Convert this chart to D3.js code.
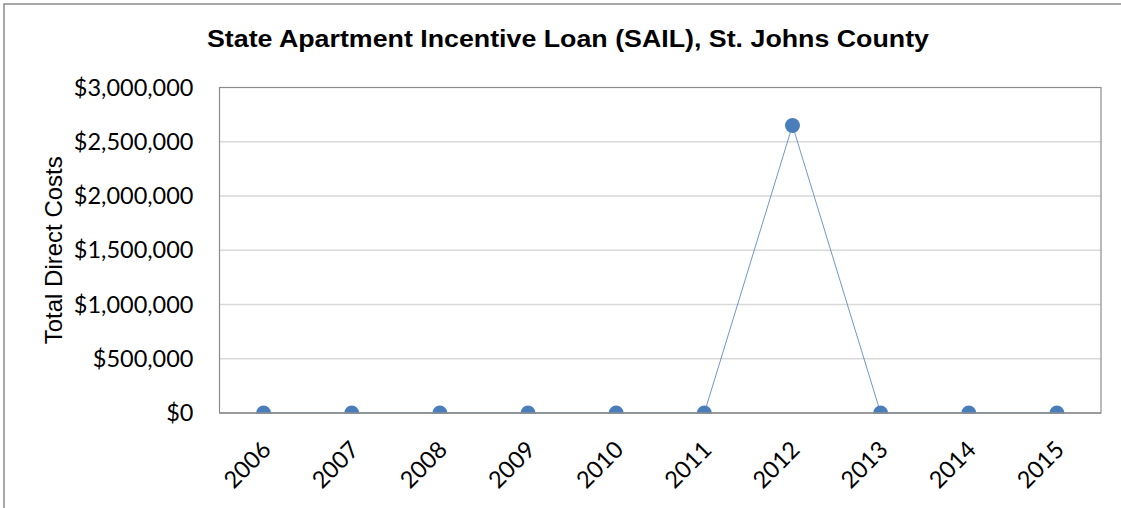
<!DOCTYPE html>
<html>
<head>
<meta charset="utf-8">
<script src="https://cdn.jsdelivr.net/npm/d3@7"></script>
<style>
  html, body { margin: 0; padding: 0; background: #fff; }
  svg { display: block; }
</style>
</head>
<body>
<svg id="chart" width="1121" height="508"></svg>
<script>
// Annual totals for SAIL funding in St. Johns County
const years = ["2006", "2007", "2008", "2009", "2010", "2011", "2012", "2013", "2014", "2015"];
const costs = [0, 0, 0, 0, 0, 0, 2650000, 0, 0, 0];
const yTicks = [0, 500000, 1000000, 1500000, 2000000, 2500000, 3000000];

const W = 1121, H = 508;
const plot = { left: 219.5, right: 1101, top: 87.5, bottom: 413 };
const labelFont = "Lato, 'Open Sans', sans-serif";

const svg = d3.select("#chart");

// outer frame (right and bottom edges run past the canvas)
svg.append("rect")
  .attr("x", 4).attr("y", 4)
  .attr("width", W).attr("height", H)
  .attr("fill", "#fff").attr("stroke", "#8c8c8c").attr("stroke-width", 1.5);

const x = d3.scalePoint().domain(years)
  .range([plot.left, plot.right]).padding(0.5);
const y = d3.scaleLinear().domain([0, 3000000])
  .range([plot.bottom, plot.top]);

// gridlines
svg.append("g").selectAll("line").data(yTicks.filter(d => d > 0 && d < 3000000))
  .join("line")
  .attr("x1", plot.left).attr("x2", plot.right)
  .attr("y1", d => y(d)).attr("y2", d => y(d))
  .attr("stroke", "#d9d9d9").attr("stroke-width", 1.5);

// plot area border
svg.append("rect")
  .attr("x", plot.left).attr("y", plot.top)
  .attr("width", plot.right - plot.left).attr("height", plot.bottom - plot.top)
  .attr("fill", "none").attr("stroke", "#8c8c8c").attr("stroke-width", 1.2);

// y axis labels
const fmt = d => "$" + d3.format(",")(d);
const yAxis = d3.axisLeft(y).tickValues(yTicks).tickFormat(fmt).tickSize(0).tickPadding(26);
const gy = svg.append("g").attr("transform", `translate(${plot.left},0)`).call(yAxis);
gy.select(".domain").remove();
gy.selectAll("text")
  .attr("font-family", labelFont)
  .attr("font-size", 23.5).attr("fill", "#000");

// x axis
const xAxis = d3.axisBottom(x).tickSize(0).tickPadding(0);
const gx = svg.append("g").attr("transform", `translate(0,${plot.bottom})`).call(xAxis);
gx.select(".domain").attr("stroke", "#8c8c8c").attr("stroke-width", 1.5)
  .attr("d", `M${plot.left},0H${plot.right}`);
gx.selectAll("text")
  .attr("font-family", labelFont)
  .attr("font-size", 23.5).attr("fill", "#000")
  .attr("text-anchor", "end")
  .attr("dy", null)
  .attr("transform", "translate(4,34) rotate(-45)")
  .attr("y", 0).attr("x", 0)
  .attr("dominant-baseline", "middle");

// series line
const line = d3.line().x((d, i) => x(years[i])).y(d => y(d));
svg.append("path").datum(costs)
  .attr("d", line)
  .attr("fill", "none").attr("stroke", "#4a7ebb").attr("stroke-width", 0.8);

// markers
svg.append("g").selectAll("circle").data(costs).join("circle")
  .attr("cx", (d, i) => x(years[i])).attr("cy", d => y(d))
  .attr("r", 7.5).attr("fill", "#4a7ebb");

// clip markers at the plot baseline
svg.append("rect")
  .attr("x", plot.left - 1).attr("y", plot.bottom + 0.75)
  .attr("width", plot.right - plot.left + 2).attr("height", 10)
  .attr("fill", "#fff");
gx.raise();

// title
svg.append("text")
  .attr("x", 568).attr("y", 47)
  .attr("text-anchor", "middle")
  .attr("font-family", "'Liberation Sans', Arial, sans-serif")
  .attr("font-weight", "bold").attr("font-size", 23.5)
  .attr("textLength", 722).attr("lengthAdjust", "spacingAndGlyphs")
  .text("State Apartment Incentive Loan (SAIL), St. Johns County");

// y axis title
svg.append("text")
  .attr("transform", `translate(62,${(plot.top + plot.bottom) / 2}) rotate(-90)`)
  .attr("text-anchor", "middle")
  .attr("font-family", "'Liberation Sans', Arial, sans-serif")
  .attr("font-size", 24)
  .text("Total Direct Costs");
</script>
</body>
</html>
